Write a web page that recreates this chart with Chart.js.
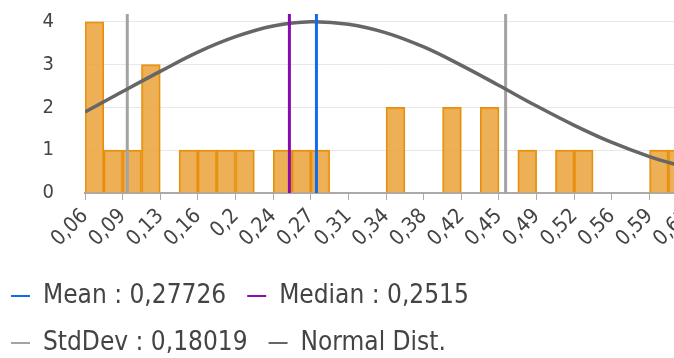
<!DOCTYPE html>
<html>
<head>
<meta charset="utf-8">
<script src="https://cdn.jsdelivr.net/npm/chart.js@4/dist/chart.umd.min.js"></script>
<style>
  html, body { margin: 0; padding: 0; background: #fff; overflow: hidden; }
  #wrap { width: 709px; height: 366px; }
</style>
</head>
<body>
<div id="wrap"><canvas id="myChart"></canvas></div>
<script>
// histogram: 32 bins starting at binStart
const binStart = 0.0568;
const binWidth = 0.017925;
const counts = [4, 1, 1, 3, 0, 1, 1, 1, 1, 0, 1, 1, 1, 0, 0, 0,
                2, 0, 0, 2, 0, 2, 0, 1, 0, 1, 1, 0, 0, 0, 1, 1];

// x tick labels, one every 2 bins
const tickLabels = ['0,06', '0,09', '0,13', '0,16', '0,2', '0,24', '0,27', '0,31', '0,34',
                    '0,38', '0,42', '0,45', '0,49', '0,52', '0,56', '0,59', '0,63'];

// stats
const mean = 0.27726;
const median = 0.2515;
const stdDev = 0.18019;

// normal curve read at each x tick
const normalCurve = [1.89, 2.37, 2.84, 3.29, 3.65, 3.90, 4.00, 3.94, 3.74,
                     3.41, 2.98, 2.51, 2.03, 1.58, 1.18, 0.85, 0.59];

const yMax = 4.18;
const yTicks = [0, 1, 2, 3, 4];

const tickValues = tickLabels.map((l, i) => binStart + i * 2 * binWidth);
const xMax = binStart + counts.length * binWidth;

const vline = (v) => [{x: v, y: 0}, {x: v, y: yMax}];

const font = "'DejaVu Sans Condensed', 'DejaVu Sans', sans-serif";

const data = {
  datasets: [{
    label: 'Mean : 0,27726',
    type: 'line',
    data: vline(mean),
    borderColor: '#0f6bf0',
    borderWidth: 3,
    pointRadius: 0,
    order: 1
  }, {
    label: 'Median : 0,2515',
    type: 'line',
    data: vline(median),
    borderColor: '#8a0cb0',
    borderWidth: 3,
    pointRadius: 0,
    order: 2
  }, {
    label: 'StdDev : 0,18019',
    type: 'line',
    data: vline(mean - stdDev),
    borderColor: '#a3a3a3',
    borderWidth: 3,
    pointRadius: 0,
    order: 4
  }, {
    label: 'sd2',
    type: 'line',
    data: vline(mean + stdDev),
    borderColor: '#a3a3a3',
    borderWidth: 3,
    pointRadius: 0,
    order: 4
  }, {
    label: 'Normal Dist.',
    type: 'line',
    data: normalCurve.map((v, i) => ({x: tickValues[i], y: v})),
    borderColor: '#666666',
    borderWidth: 3.5,
    pointRadius: 0,
    tension: 0.4,
    order: 3
  }, {
    label: 'hist',
    type: 'bar',
    data: counts.map((c, i) => ({x: binStart + (i + 0.5) * binWidth, y: c})),
    backgroundColor: 'rgba(234, 162, 56, 0.85)',
    borderColor: '#e8900c',
    borderWidth: 1.5,
    barPercentage: 1,
    categoryPercentage: 1,
    order: 10
  }]
};

const legendItems = ['Mean : 0,27726', 'Median : 0,2515', 'StdDev : 0,18019', 'Normal Dist.'];

// nudge the legend to the left edge
const shiftLegend = {
  id: 'shiftLegend',
  afterLayout(chart) {
    chart.legend.left -= 10;
    chart.legend.right -= 10;
  }
};

const config = {
  type: 'bar',
  data,
  options: {
    responsive: true,
    maintainAspectRatio: false,
    animation: false,
    layout: { padding: 0 },
    plugins: {
      tooltip: { enabled: false },
      legend: {
        position: 'bottom',
        align: 'start',
        labels: {
          font: { family: font, size: 26 },
          color: '#444',
          boxWidth: 19,
          boxHeight: 2,
          padding: 21,
          generateLabels: (chart) => legendItems.map(text => {
            const ds = chart.data.datasets.find(d => d.label === text);
            return { text, fillStyle: ds.borderColor, strokeStyle: ds.borderColor, lineWidth: 0, fontColor: '#444' };
          })
        }
      }
    },
    scales: {
      x: {
        type: 'linear',
        min: binStart,
        max: xMax,
        offset: false,
        afterBuildTicks: (scale) => { scale.ticks = tickValues.map(v => ({value: v})); },
        afterFit: (scale) => { scale.height = 69; },
        ticks: {
          autoSkip: false,
          minRotation: 45,
          maxRotation: 45,
          padding: 4,
          color: '#444',
          font: { family: font, size: 21 },
          callback: (v, i) => tickLabels[i]
        },
        grid: { drawOnChartArea: false, tickLength: 7, color: '#aaa', offset: false },
        border: { color: '#aaa', width: 2 }
      },
      y: {
        min: 0,
        max: yMax,
        afterBuildTicks: (scale) => { scale.ticks = yTicks.map(v => ({value: v})); },
        afterFit: (scale) => { scale.width = 85; },
        ticks: { color: '#444', padding: 2, font: { family: font, size: 20 } },
        grid: { drawTicks: true, tickLength: 29, tickColor: 'rgba(0,0,0,0)', color: '#e8e8e8' },
        border: { display: false }
      }
    }
  },
  plugins: [shiftLegend]
};

const myChart = new Chart(document.getElementById('myChart'), config);
</script>
</body>
</html>
